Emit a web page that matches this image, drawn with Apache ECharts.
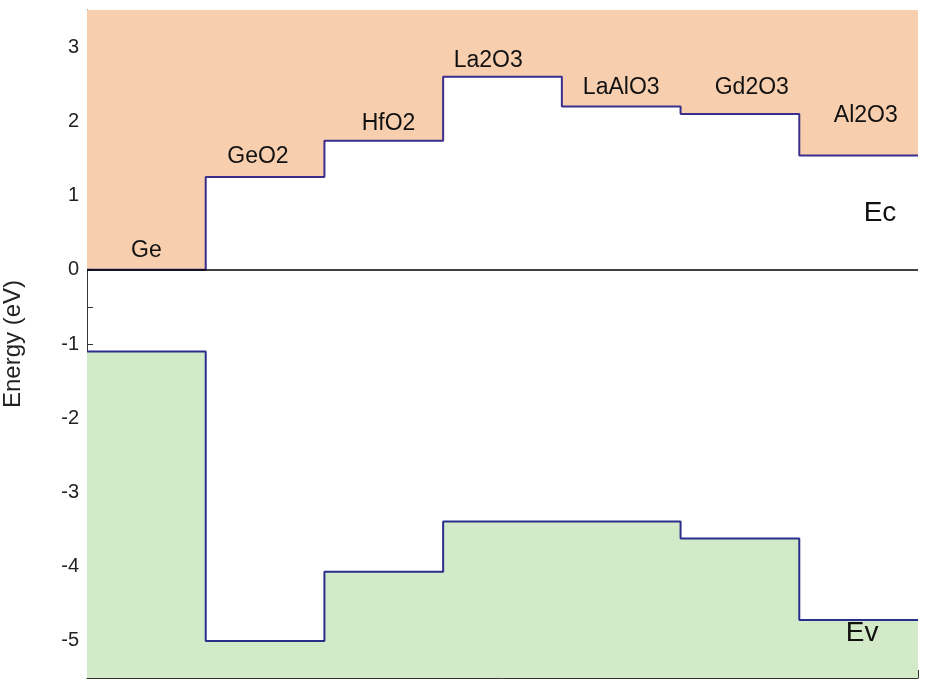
<!DOCTYPE html><html><head><meta charset="utf-8"><script src="https://cdn.jsdelivr.net/npm/echarts@6/dist/echarts.min.js"></script></head><body style="margin:0"><div id="c" style="width:926px;height:685px"></div><script>
const materials=['Ge','GeO2','HfO2','La2O3','LaAlO3','Gd2O3','Al2O3'];
const ec=[0,1.25,1.74,2.6,2.2,2.1,1.54];
const ev=[-1.1,-5.0,-4.07,-3.39,-3.39,-3.62,-4.72];
const yTicks=[-5,-4,-3,-2,-1,0,1,2,3];
function steps(v){const d=v.map((y,i)=>[i,y]);d.push([v.length,v[v.length-1]]);return d;}
const labelPos=[[0.5,0.26],[1.44,1.52],[2.54,1.97],[3.38,2.82],[4.5,2.46],[5.6,2.45],[6.56,2.08]];
const labels=labelPos.map((p,i)=>[p[0],p[1],materials[i],23]).concat([[6.68,0.76,'Ec',28],[6.53,-4.9,'Ev',28]]);
const chart=echarts.init(document.getElementById('c'));
chart.setOption({animation:false,
grid:{left:87,right:8,top:10,bottom:7,outerBoundsMode:'none',containLabel:false},
xAxis:{type:'value',min:0,max:7,interval:0.5,axisLabel:{show:false},splitLine:{show:false},axisLine:{onZero:false,lineStyle:{color:'#333'}},axisTick:{inside:true,length:8,lineStyle:{color:'#333'}}},
yAxis:{type:'value',min:-5.5,max:3.5,interval:0.5,name:'Energy (eV)',nameLocation:'middle',nameGap:62,nameTextStyle:{fontSize:24,color:'#222',fontFamily:'Liberation Sans'},
 axisLabel:{fontSize:20,color:'#222',fontFamily:'Liberation Sans',formatter:v=>yTicks.includes(v)?String(v):''},
 axisTick:{inside:true,length:6,lineStyle:{color:'#333'}},splitLine:{show:false},axisLine:{show:true,lineStyle:{color:'#333'}}},
series:[
{type:'line',step:'end',data:steps(ec),symbol:'none',lineStyle:{color:'#3a2e8c',width:2},areaStyle:{origin:'end',color:'#f8cfae',opacity:1},
 markLine:{silent:true,symbol:'none',label:{show:false},lineStyle:{color:'#000',width:1.5,type:'solid'},data:[{yAxis:0}]}},
{type:'line',step:'end',data:steps(ev),symbol:'none',lineStyle:{color:'#2a2e8c',width:2},areaStyle:{origin:'start',color:'#d2eac8',opacity:1}},
{type:'custom',z:10,data:labels,renderItem:(params,api)=>{const d=labels[params.dataIndex];const pt=api.coord([d[0],d[1]]);
 return {type:'text',x:pt[0],y:pt[1],style:{text:d[2],fontSize:d[3],fill:'#111',fontFamily:'Liberation Sans',align:'center',verticalAlign:'middle'}};}}
]});
</script></body></html>
